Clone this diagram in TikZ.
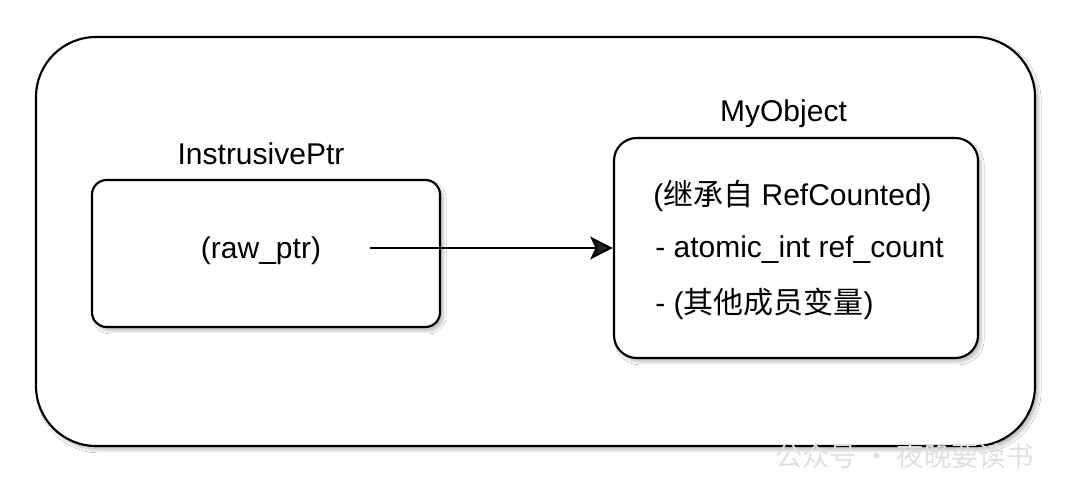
\documentclass[tikz,border=0pt]{standalone}
\usepackage{fontspec}
\setmainfont{Liberation Sans}
\newfontfamily\cjk{Noto Sans CJK SC}
\usetikzlibrary{arrows.meta,shadows.blur}
\tikzset{
  box/.style={draw=black, line width=1.6pt, fill=white,
    blur shadow={shadow xshift=2.5pt, shadow yshift=-3pt, shadow blur steps=6, shadow opacity=25}},
  lbl/.style={inner sep=0pt, font=\fontsize{22.5}{27}\selectfont},
  wm/.style={inner sep=0pt, text=black!12, font=\cjk\fontsize{20.5}{24}\selectfont},
  conn/.style={line width=1.6pt, -{Stealth[length=17pt, width=17pt, inset=4pt]}}
}
\begin{document}
\begin{tikzpicture}[x=0.75pt, y=-0.75pt]
\useasboundingbox (0,0) rectangle (1080,495);
\fill[white] (0,0) rectangle (1080,495);
% outer container
\draw[box, rounded corners=45pt] (36,37) rectangle (1035,446);
% left box
\draw[box, rounded corners=11pt] (92,180) rectangle (440,327);
\node[lbl, anchor=base] (ptrtitle) at (261,165) {InstrusivePtr};
\node[lbl, anchor=base] (raw) at (261,258) {(raw\_ptr)};
% right box
\node[box, rounded corners=17pt, minimum width=364*0.75pt, minimum height=220*0.75pt, inner sep=0pt] (obj) at (796,248) {};
\node[lbl, anchor=base] (objtitle) at (783.5,122) {MyObject};
\node[lbl, anchor=base west] (l1) at (653,205) {(\cjk 继承自\normalfont{} RefCounted)};
\node[lbl, anchor=base west] (l2) at (655,257) {- atomic\_int ref\_count};
\node[lbl, anchor=base west] (l3) at (655,313) {- (\cjk 其他成员变量\normalfont)};
% connector
\coordinate (start) at (370,248);
\draw[conn] (start) -- (obj.west |- start);
% watermark
\node[wm, anchor=west] (wmark) at (775,456) {公众号 · 夜晚要读书};
\end{tikzpicture}
\end{document}
